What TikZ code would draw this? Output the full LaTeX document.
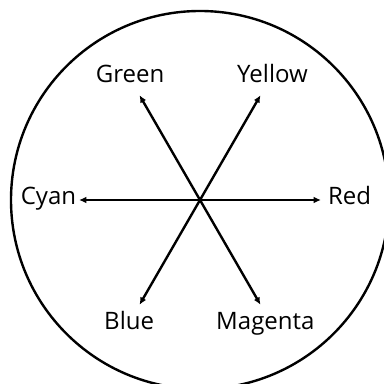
\documentclass[tikz,border=0pt]{standalone}
\usepackage{fontspec}
\setmainfont{Open Sans}
\usetikzlibrary{arrows.meta, positioning}

\begin{document}
\begin{tikzpicture}[
    x=0.75pt, y=0.75pt,
    wheel/.style={line width=1.8pt},
    spoke/.style={
        line width=1.8pt,
        -{Latex[length=5.5pt,width=5pt]}
    },
    hue label/.style={
        font=\fontsize{18}{21}\selectfont,
        inner sep=0pt,
        text height=0.72em,  % centre on the capitals
        text depth=0pt
    }
]
    % picture frame, circle is cut at right and bottom
    \useasboundingbox (-200,-184) rectangle (184,200);
    \clip (-200,-184) rectangle (184,200);

    \coordinate (o) at (0,0);
    \draw[wheel] (o) circle (189);

    % arrow tips
    \coordinate (tipR) at (0:121);
    \coordinate (tipY) at (60:121);
    \coordinate (tipG) at (120:121);
    \coordinate (tipC) at (180:121);
    \coordinate (tipB) at (240:121);
    \coordinate (tipM) at (300:121);

    % labels
    \node[hue label] (red) at (0:149.5) {Red};
    \node[hue label] (yellow) at (59.3:142) {Yellow};
    \node[hue label] (green) at (119.8:140.5) {Green};
    \node[hue label] (cyan) at (180:151.5) {Cyan};
    \node[hue label] (blue) at (240.4:143.5) {Blue};
    \node[hue label] (magenta) at (297.6:141) {Magenta};

    % spokes
    \draw[spoke] (o) -- (tipR);
    \draw[spoke] (o) -- (tipY);
    \draw[spoke] (o) -- (tipG);
    \draw[spoke] (o) -- (tipC);
    \draw[spoke] (o) -- (tipB);
    \draw[spoke] (o) -- (tipM);
\end{tikzpicture}
\end{document}
